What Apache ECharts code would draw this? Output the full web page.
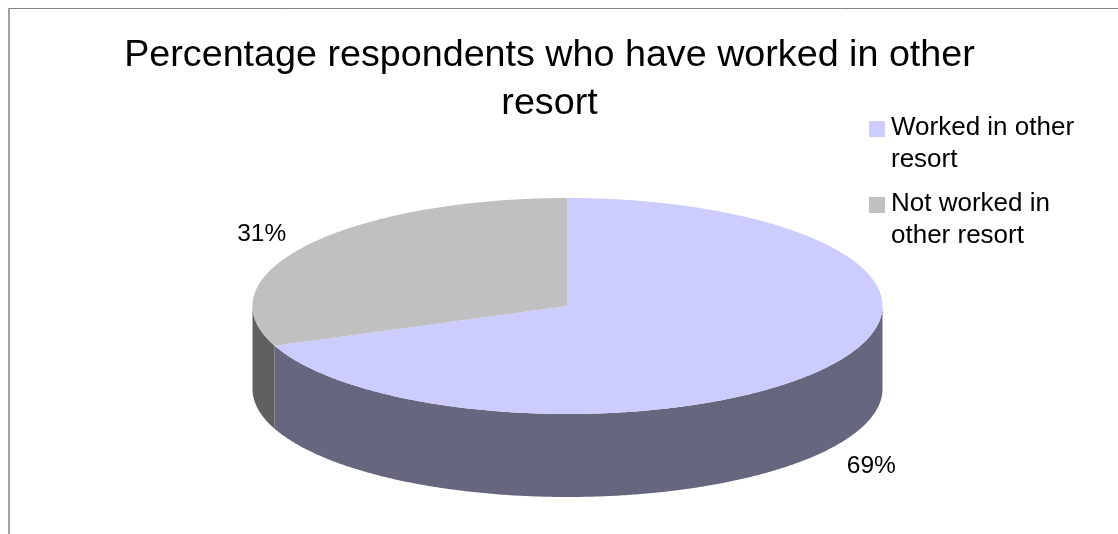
<!DOCTYPE html>
<html>
<head>
<meta charset="utf-8">
<style>html,body{margin:0;padding:0;background:#fff}#c{width:1118px;height:534px}</style>
<script src="https://cdn.jsdelivr.net/npm/echarts@6/dist/echarts.min.js"></script>
</head>
<body>
<div id="c"></div>
<script>
var titleLines = ['Percentage respondents who have worked in other', 'resort'];
var categories = ['Worked in other\nresort', 'Not worked in\nother resort'];
var values = [69, 31];
var topColors = ['#CCCCFF', '#C0C0C0'];
var sideColors = ['#66667F', '#606060'];

var FONT = '"Liberation Sans", Arial, sans-serif';
var CX = 567.5, CY = 306, RX = 315, RY = 108, DEPTH = 83;
var total = values.reduce(function (a, b) { return a + b; }, 0);

function pt(deg, dy) {
  var r = deg * Math.PI / 180;
  return [CX + RX * Math.sin(r), CY - RY * Math.cos(r) + (dy || 0)];
}
function arc(from, to, dy) {
  var out = [], n = Math.max(2, Math.ceil(Math.abs(to - from) * 2));
  for (var i = 0; i <= n; i++) out.push(pt(from + (to - from) * i / n, dy));
  return out;
}
function makeRender(idx) {
  return function (params, api) {
    var start = 0;
    for (var k = 0; k < idx; k++) start += values[k] / total * 360;
    var end = start + api.value(0) / total * 360;
    var kids = [];
    var a = Math.max(start, 90), b = Math.min(end, 270);
    if (b > a) {
      var wall = arc(a, b, 0).concat(arc(b, a, DEPTH));
      kids.push({ type: 'polygon', shape: { points: wall }, style: { fill: sideColors[idx] } });
    }
    var face = [[CX, CY]].concat(arc(start, end, 0));
    kids.push({ type: 'polygon', shape: { points: face }, style: { fill: api.visual('color') } });
    var mid = (start + end) / 2;
    var r = mid * Math.PI / 180;
    var front = Math.cos(r) < 0;
    kids.push({
      type: 'text',
      style: {
        x: CX - 1 + RX * 1.17 * Math.sin(r),
        y: CY + 2 - RY * 1.21 * Math.cos(r) + (front ? DEPTH + 2 : 0),
        text: Math.round(api.value(0) / total * 100) + '%',
        fill: '#000', font: '24.5px ' + FONT, align: 'center', verticalAlign: 'middle'
      }
    });
    return { type: 'group', children: kids };
  };
}

var chart = echarts.init(document.getElementById('c'), null, { renderer: 'canvas' });
chart.setOption({
  animation: false,
  backgroundColor: '#fff',
  title: {
    text: titleLines.join('\n'),
    left: 549.5, top: 31.5, textAlign: 'center', padding: 0,
    textStyle: { fontFamily: FONT, fontSize: 37.7, fontWeight: 'normal', color: '#000', lineHeight: 48 }
  },
  legend: {
    orient: 'vertical', left: 869, top: 111.5,
    itemWidth: 16, itemHeight: 45, itemGap: 12,
    icon: 'path://M0,0H16V16H0ZM0,45h0z',
    align: 'left',
    textStyle: { fontFamily: FONT, fontSize: 26, color: '#000', lineHeight: 32, padding: [0, 0, 0, 1] },
    padding: 0,
    selectedMode: false
  },
  series: categories.map(function (name, i) {
    return {
      type: 'custom', name: name, coordinateSystem: 'none',
      renderItem: makeRender(i),
      itemStyle: { color: topColors[i] },
      data: [[values[i]]]
    };
  }),
  graphic: [
    { type: 'line', silent: true, shape: { x1: 8, y1: 8.5, x2: 1118, y2: 8.5 }, style: { stroke: '#808080', lineWidth: 1 } },
    { type: 'line', silent: true, shape: { x1: 9, y1: 8, x2: 9, y2: 534 }, style: { stroke: '#a0a0a0', lineWidth: 2 } }
  ]
});
</script>
</body>
</html>
